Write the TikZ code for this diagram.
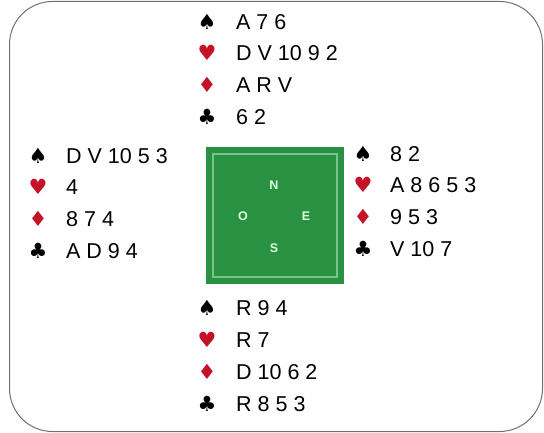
\documentclass[tikz,border=0pt]{standalone}
\usepackage{fontspec}
\setmainfont{Liberation Sans}
\newfontfamily\symfont{DejaVu Sans}
\definecolor{suitred}{RGB}{196,18,40}
\definecolor{felt}{RGB}{40,146,66}
\definecolor{feltline}{RGB}{120,196,140}
\definecolor{frame}{RGB}{110,110,110}
\begin{document}
\begin{tikzpicture}[x=1pt,y=-1pt,
  cards/.style={anchor=west,inner sep=0pt,font=\fontsize{21.5}{21.5}\selectfont,text height=15.4pt,text depth=0pt},
  suitb/.style={inner sep=0pt,font=\symfont\fontsize{21}{21}\selectfont,text=black},
  suitr/.style={inner sep=0pt,font=\symfont\fontsize{21}{21}\selectfont,text=suitred},
  dir/.style={inner sep=0pt,font=\bfseries\fontsize{12.5}{12.5}\selectfont,text={white!88!green}}]
\useasboundingbox (0,0) rectangle (544,433);
\draw[frame,line width=1pt,rounded corners=43pt] (9.5,1.5) rectangle (542.5,431.5);
% table
\fill[felt] (206,147) rectangle (344,284);
\draw[feltline,line width=1.2pt] (213,154) rectangle (337,277);
\node[dir] (tn) at (274,185) {N};
\node[dir] (to) at (243,216) {O};
\node[dir] (te) at (306,216) {E};
\node[dir] (ts) at (274,248) {S};
% North
\node[suitb] (ns) at (207,22) {♠};
\node[suitr] (nh) at (207,53) {♥};
\node[suitr] (nd) at (207,85) {♦};
\node[suitb] (nc) at (207,117) {♣};
\node[cards] (nst) at (236,22) {A 7 6};
\node[cards] (nht) at (236,53) {D V 10 9 2};
\node[cards] (ndt) at (236,85) {A R V};
\node[cards] (nct) at (236,117) {6 2};
% West
\node[suitb] (ws) at (38,156) {♠};
\node[suitr] (wh) at (38,187) {♥};
\node[suitr] (wd) at (38,219) {♦};
\node[suitb] (wc) at (38,251) {♣};
\node[cards] (wst) at (66,156) {D V 10 5 3};
\node[cards] (wht) at (66,187) {4};
\node[cards] (wdt) at (66,219) {8 7 4};
\node[cards] (wct) at (66,251) {A D 9 4};
% East
\node[suitb] (es) at (363,154) {♠};
\node[suitr] (eh) at (363,185) {♥};
\node[suitr] (ed) at (363,217) {♦};
\node[suitb] (ec) at (363,249) {♣};
\node[cards] (est) at (390,154) {8 2};
\node[cards] (eht) at (390,185) {A 8 6 5 3};
\node[cards] (edt) at (390,217) {9 5 3};
\node[cards] (ect) at (390,249) {V 10 7};
% South
\node[suitb] (ss) at (207,308) {♠};
\node[suitr] (sh) at (207,340) {♥};
\node[suitr] (sd) at (207,372) {♦};
\node[suitb] (sc) at (207,404) {♣};
\node[cards] (sst) at (236,308) {R 9 4};
\node[cards] (sht) at (236,340) {R 7};
\node[cards] (sdt) at (236,372) {D 10 6 2};
\node[cards] (sct) at (236,404) {R 8 5 3};
\end{tikzpicture}
\end{document}
